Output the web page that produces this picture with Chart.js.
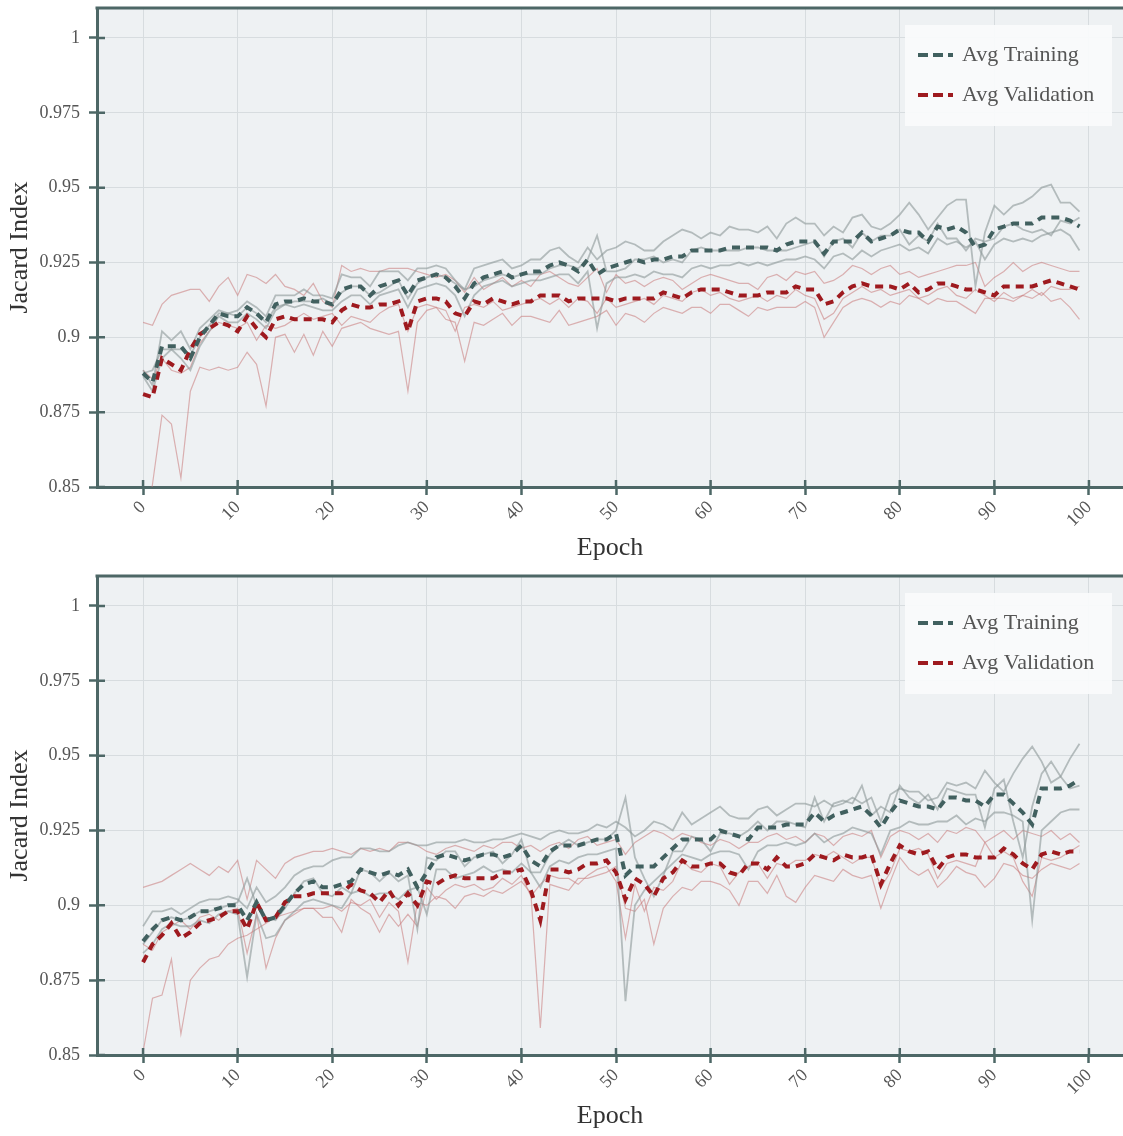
<!DOCTYPE html>
<html lang="en">

<head>
    <meta charset="UTF-8">
    <meta name="viewport" content="width=device-width, initial-scale=1.0">
    <script src="https://cdn.jsdelivr.net/npm/chart.js"></script>
    <title>Jacard Index per Epoch</title>
    <style>
        body { margin: 0; background: #ffffff; }
        .panel { width: 1123px; height: 568px; }
    </style>
</head>

<body>
    <div class="panel"><canvas id="chartTop" width="1123" height="568"></canvas></div>
    <div class="panel"><canvas id="chartBottom" width="1123" height="568"></canvas></div>

    <script>
        // epochs 0..99 on the x axis
        const epochs = Array.from({ length: 100 }, (_, i) => i);
        const xTicks = [0, 10, 20, 30, 40, 50, 60, 70, 80, 90, 100];
        const yTicks = [0.85, 0.875, 0.9, 0.925, 0.95, 0.975, 1];

        // ---- top panel ----
        const topAvgTraining = [
            .888, .885, .897, .897, .897, .893, .900, .904, .908, .907,
            .907, .910, .908, .905, .911, .912, .912, .913, .912, .912,
            .911, .916, .917, .917, .914, .917, .918, .919, .914, .919,
            .920, .921, .920, .917, .913, .918, .920, .921, .922, .920,
            .921, .922, .922, .924, .925, .924, .922, .926, .921, .923,
            .924, .925, .926, .925, .926, .926, .927, .927, .929, .929,
            .929, .929, .930, .930, .930, .930, .930, .929, .931, .932,
            .932, .932, .928, .932, .932, .932, .935, .932, .933, .934,
            .936, .935, .935, .932, .937, .936, .937, .935, .930, .931,
            .936, .937, .938, .938, .938, .940, .940, .940, .939, .937];
        const topAvgValidation = [
            .881, .880, .893, .891, .889, .896, .901, .903, .905, .904,
            .902, .907, .903, .900, .906, .907, .906, .906, .906, .906,
            .905, .909, .911, .910, .910, .911, .911, .912, .902, .912,
            .913, .913, .912, .908, .907, .912, .911, .913, .912, .911,
            .912, .912, .914, .914, .914, .912, .913, .913, .913, .913,
            .912, .913, .913, .913, .913, .915, .914, .913, .915, .916,
            .916, .916, .915, .914, .914, .914, .915, .915, .915, .917,
            .916, .916, .911, .912, .915, .917, .918, .917, .917, .917,
            .916, .918, .915, .916, .918, .918, .917, .916, .916, .915,
            .914, .917, .917, .917, .917, .918, .919, .918, .917, .916];
        const topTrainFold1 = [
            .889, .884, .902, .899, .902, .896, .903, .906, .909, .908,
            .909, .912, .910, .907, .914, .914, .914, .916, .914, .914,
            .913, .921, .920, .920, .917, .922, .922, .922, .919, .923,
            .923, .924, .923, .919, .916, .923, .924, .925, .926, .923,
            .924, .926, .926, .929, .930, .927, .925, .930, .926, .929,
            .930, .932, .931, .929, .929, .932, .934, .936, .935, .933,
            .935, .934, .937, .936, .936, .935, .937, .933, .938, .940,
            .938, .938, .934, .937, .935, .940, .941, .937, .936, .938,
            .941, .945, .941, .936, .940, .944, .946, .946, .917, .935,
            .944, .941, .944, .945, .947, .950, .951, .945, .945, .942];
        const topTrainFold2 = [
            .887, .882, .893, .896, .893, .889, .897, .902, .907, .905,
            .905, .908, .906, .903, .909, .911, .910, .911, .910, .909,
            .909, .912, .914, .914, .911, .914, .915, .916, .910, .916,
            .917, .918, .917, .914, .907, .914, .917, .918, .919, .917,
            .918, .919, .919, .920, .921, .921, .918, .922, .903, .918,
            .920, .920, .921, .920, .922, .921, .921, .920, .923, .924,
            .923, .924, .924, .925, .924, .925, .924, .925, .926, .926,
            .927, .926, .923, .927, .928, .926, .929, .927, .929, .930,
            .931, .929, .930, .928, .933, .931, .932, .930, .932, .926,
            .931, .933, .932, .933, .932, .934, .935, .936, .934, .929];
        const topTrainFold3 = [
            .888, .889, .896, .896, .896, .894, .900, .904, .908, .908,
            .907, .910, .908, .905, .910, .911, .912, .912, .912, .913,
            .911, .915, .917, .917, .914, .915, .917, .919, .913, .918,
            .920, .921, .920, .918, .916, .917, .919, .920, .921, .920,
            .921, .921, .921, .923, .924, .924, .923, .926, .934, .922,
            .922, .923, .926, .926, .927, .925, .926, .925, .929, .930,
            .929, .929, .929, .929, .930, .930, .929, .929, .929, .930,
            .931, .932, .927, .932, .933, .930, .935, .932, .934, .934,
            .936, .931, .934, .932, .938, .933, .933, .929, .933, .932,
            .933, .937, .938, .936, .935, .936, .934, .939, .938, .940];
        const topValFold1 = [
            .905, .904, .911, .914, .915, .916, .916, .912, .917, .920,
            .914, .921, .920, .918, .921, .917, .916, .914, .918, .912,
            .910, .924, .922, .923, .922, .922, .923, .923, .923, .922,
            .921, .920, .921, .919, .915, .920, .916, .918, .920, .917,
            .919, .917, .921, .922, .920, .918, .917, .920, .923, .915,
            .921, .918, .919, .917, .919, .920, .919, .916, .918, .920,
            .921, .920, .919, .918, .918, .916, .920, .921, .919, .922,
            .921, .922, .918, .919, .921, .924, .923, .921, .923, .924,
            .921, .922, .920, .921, .922, .923, .924, .924, .925, .917,
            .920, .922, .925, .922, .924, .925, .924, .923, .922, .922];
        const topValFold2 = [
            .830, .851, .874, .871, .853, .882, .890, .889, .890, .889,
            .890, .895, .891, .877, .900, .901, .895, .901, .894, .902,
            .897, .903, .904, .905, .903, .902, .901, .902, .882, .905,
            .909, .910, .906, .905, .892, .905, .904, .906, .908, .904,
            .907, .907, .906, .905, .909, .904, .905, .906, .907, .909,
            .904, .908, .907, .905, .908, .910, .909, .908, .910, .910,
            .908, .911, .911, .909, .907, .910, .909, .910, .910, .910,
            .912, .910, .900, .905, .910, .912, .913, .912, .910, .912,
            .911, .914, .913, .911, .913, .912, .912, .910, .908, .913,
            .913, .913, .912, .914, .913, .915, .912, .913, .910, .906];
        const topValFold3 = [
            .889, .886, .893, .889, .888, .890, .898, .902, .905, .904,
            .903, .905, .899, .904, .903, .904, .906, .908, .906, .907,
            .908, .904, .907, .906, .905, .908, .910, .911, .902, .910,
            .911, .910, .909, .902, .910, .911, .910, .912, .909, .910,
            .911, .912, .913, .911, .913, .910, .913, .912, .908, .913,
            .910, .911, .912, .913, .911, .914, .913, .912, .915, .916,
            .914, .915, .913, .912, .913, .914, .912, .914, .913, .916,
            .914, .913, .906, .908, .913, .915, .917, .915, .916, .914,
            .915, .916, .913, .914, .916, .917, .914, .913, .916, .914,
            .912, .915, .913, .914, .916, .914, .917, .916, .916, .917];

        // ---- bottom panel ----
        const bottomAvgTraining = [
            .888, .892, .895, .896, .895, .896, .898, .898, .899, .900,
            .900, .895, .901, .895, .896, .900, .904, .907, .908, .906,
            .906, .907, .908, .912, .911, .910, .911, .910, .912, .906,
            .911, .916, .917, .916, .915, .916, .917, .917, .916, .917,
            .920, .915, .913, .918, .920, .920, .920, .921, .922, .922,
            .924, .910, .913, .913, .913, .916, .919, .922, .922, .922,
            .922, .925, .924, .923, .922, .926, .926, .926, .927, .927,
            .927, .931, .928, .930, .931, .932, .933, .930, .926, .931,
            .935, .934, .933, .933, .932, .936, .936, .935, .935, .933,
            .937, .937, .934, .931, .927, .939, .939, .939, .940, .942];
        const bottomAvgValidation = [
            .881, .887, .890, .894, .889, .891, .894, .895, .896, .898,
            .898, .892, .901, .895, .896, .901, .903, .903, .904, .904,
            .904, .904, .907, .905, .904, .901, .905, .900, .904, .900,
            .908, .907, .909, .910, .909, .909, .909, .909, .911, .911,
            .912, .905, .895, .912, .912, .911, .912, .914, .914, .915,
            .911, .902, .909, .907, .903, .909, .911, .915, .913, .913,
            .914, .914, .911, .910, .914, .914, .912, .916, .913, .913,
            .914, .917, .916, .915, .917, .916, .916, .917, .907, .914,
            .920, .918, .917, .918, .912, .916, .917, .917, .916, .916,
            .916, .919, .917, .914, .912, .917, .918, .917, .918, .918];
        const bottomTrainFold1 = [
            .893, .898, .898, .899, .897, .899, .901, .902, .902, .903,
            .902, .899, .906, .901, .903, .906, .910, .912, .913, .913,
            .915, .916, .916, .919, .919, .918, .918, .920, .921, .920,
            .920, .921, .921, .921, .922, .921, .921, .922, .922, .923,
            .924, .923, .922, .924, .925, .924, .924, .925, .927, .926,
            .928, .926, .923, .925, .928, .927, .925, .931, .927, .929,
            .931, .933, .930, .929, .929, .932, .933, .930, .932, .934,
            .934, .933, .935, .933, .934, .936, .934, .936, .928, .937,
            .939, .938, .938, .935, .936, .941, .940, .941, .939, .945,
            .941, .938, .944, .949, .953, .948, .941, .943, .949, .954];
        const bottomTrainFold2 = [
            .884, .887, .892, .894, .893, .893, .895, .894, .897, .898,
            .897, .876, .897, .889, .890, .895, .898, .901, .902, .901,
            .900, .899, .904, .905, .903, .904, .904, .902, .905, .906,
            .897, .912, .912, .909, .910, .911, .913, .911, .912, .911,
            .914, .911, .906, .913, .915, .914, .916, .917, .917, .918,
            .919, .868, .900, .905, .908, .911, .914, .917, .916, .915,
            .917, .918, .918, .917, .912, .918, .920, .920, .921, .920,
            .921, .924, .921, .923, .924, .926, .925, .924, .917, .925,
            .926, .928, .927, .927, .928, .928, .930, .927, .929, .928,
            .931, .931, .930, .928, .895, .925, .928, .931, .932, .932];
        const bottomTrainFold3 = [
            .887, .891, .895, .896, .895, .896, .898, .898, .899, .900,
            .901, .909, .900, .896, .895, .899, .904, .908, .909, .904,
            .903, .906, .904, .912, .911, .908, .911, .908, .910, .892,
            .916, .915, .918, .918, .913, .916, .917, .918, .914, .917,
            .922, .911, .911, .917, .920, .922, .920, .921, .922, .922,
            .925, .936, .916, .909, .903, .910, .918, .918, .923, .922,
            .918, .924, .924, .923, .925, .928, .925, .928, .928, .927,
            .926, .936, .928, .934, .935, .934, .940, .930, .933, .931,
            .940, .936, .934, .937, .932, .939, .938, .937, .937, .926,
            .939, .942, .928, .916, .933, .944, .948, .943, .939, .940];
        const bottomValFold1 = [
            .906, .907, .908, .910, .912, .914, .912, .910, .913, .911,
            .915, .902, .915, .912, .909, .914, .916, .917, .918, .918,
            .919, .918, .917, .919, .918, .919, .918, .921, .921, .920,
            .918, .917, .919, .920, .919, .918, .920, .919, .921, .921,
            .919, .920, .918, .920, .921, .919, .922, .923, .920, .921,
            .922, .917, .921, .923, .925, .924, .922, .924, .923, .921,
            .920, .922, .921, .919, .921, .921, .923, .924, .922, .923,
            .921, .924, .923, .920, .923, .924, .923, .925, .916, .923,
            .925, .924, .922, .924, .921, .925, .924, .926, .925, .921,
            .923, .925, .922, .925, .924, .923, .925, .922, .924, .921];
        const bottomValFold2 = [
            .851, .869, .870, .882, .857, .875, .879, .882, .883, .887,
            .889, .890, .892, .894, .896, .897, .898, .899, .899, .899,
            .900, .898, .901, .900, .902, .896, .901, .898, .881, .901,
            .900, .903, .902, .899, .903, .904, .903, .905, .904, .906,
            .908, .904, .859, .907, .906, .905, .909, .909, .910, .911,
            .913, .899, .898, .902, .887, .899, .903, .906, .905, .908,
            .908, .907, .905, .900, .908, .908, .904, .910, .903, .901,
            .906, .910, .909, .908, .912, .910, .909, .910, .899, .908,
            .916, .912, .910, .912, .906, .909, .913, .911, .910, .906,
            .909, .914, .913, .910, .909, .912, .914, .913, .912, .914];
        const bottomValFold3 = [
            .887, .885, .891, .893, .895, .892, .896, .897, .895, .898,
            .899, .884, .897, .879, .889, .895, .897, .899, .899, .896,
            .896, .891, .902, .899, .897, .891, .897, .893, .897, .893,
            .906, .902, .905, .907, .906, .907, .905, .906, .909, .907,
            .910, .903, .907, .910, .909, .909, .907, .910, .912, .913,
            .908, .889, .907, .898, .906, .905, .908, .915, .912, .911,
            .914, .913, .907, .911, .913, .914, .909, .914, .913, .915,
            .915, .917, .916, .918, .916, .914, .916, .916, .906, .911,
            .919, .918, .919, .917, .909, .914, .915, .914, .913, .921,
            .916, .918, .916, .908, .903, .916, .915, .916, .918, .920];

        // colours
        const axisColor = '#4d6766';
        const gridColor = '#d7dcdf';
        const plotBg = '#eef1f3';
        const tickColor = '#555555';
        const titleColor = '#333333';
        const avgTrainColor = '#41605f';
        const avgValColor = '#9e1a1f';
        const foldTrainColor = 'rgba(140, 152, 152, 0.6)';
        const foldValColor = 'rgba(200, 120, 120, 0.55)';

        Chart.defaults.font.family = '"Liberation Serif", "DejaVu Serif", serif';

        function toPoints(values) {
            return values.map((v, i) => ({ x: epochs[i], y: v }));
        }

        // plot background, top frame line and the inner half of the tick marks
        const plotFrame = {
            id: 'plotFrame',
            beforeDraw(chart) {
                const { ctx, chartArea: a } = chart;
                ctx.save();
                ctx.fillStyle = plotBg;
                ctx.fillRect(a.left, a.top, a.right - a.left, a.bottom - a.top);
                ctx.restore();
            },
            afterDraw(chart) {
                const { ctx, chartArea: a, scales } = chart;
                ctx.save();
                ctx.strokeStyle = axisColor;
                ctx.lineWidth = 3;
                ctx.beginPath();
                ctx.moveTo(a.left - 1.5, a.top);
                ctx.lineTo(a.right, a.top);
                ctx.stroke();
                ctx.lineWidth = 2.5;
                ctx.beginPath();
                scales.x.ticks.forEach(t => {
                    const px = scales.x.getPixelForValue(t.value);
                    ctx.moveTo(px, a.bottom);
                    ctx.lineTo(px, a.bottom - 7);
                });
                scales.y.ticks.forEach(t => {
                    const py = scales.y.getPixelForValue(t.value);
                    ctx.moveTo(a.left, py);
                    ctx.lineTo(a.left + 8, py);
                });
                ctx.stroke();
                ctx.restore();
            }
        };

        // legend box in the top right corner of the plot
        const boxLegend = {
            id: 'boxLegend',
            afterDraw(chart) {
                const { ctx, chartArea: a } = chart;
                const items = chart.data.datasets.filter(d => d.inLegend);
                const w = 207, h = 101;
                const x = a.right - 11 - w;
                const y = a.top + 17;
                ctx.save();
                ctx.fillStyle = 'rgba(250, 251, 252, 0.92)';
                ctx.fillRect(x, y, w, h);
                items.forEach((d, i) => {
                    const cy = y + 30 + i * 40;
                    ctx.strokeStyle = d.borderColor;
                    ctx.lineWidth = 4;
                    ctx.setLineDash([10, 5]);
                    ctx.beginPath();
                    ctx.moveTo(x + 13, cy);
                    ctx.lineTo(x + 48, cy);
                    ctx.stroke();
                    ctx.setLineDash([]);
                    ctx.fillStyle = tickColor;
                    ctx.font = '22px "Liberation Serif", serif';
                    ctx.textBaseline = 'middle';
                    ctx.fillText(d.label, x + 57, cy);
                });
                ctx.restore();
            }
        };

        function foldLine(values, color, width) {
            return {
                data: toPoints(values),
                borderColor: color,
                borderWidth: width,
                pointRadius: 0,
                tension: 0
            };
        }

        function makeChart(canvasId, avgTrain, avgVal, trainFolds, valFolds) {
            const datasets = [
                {
                    label: 'Avg Training', inLegend: true,
                    data: toPoints(avgTrain), borderColor: avgTrainColor,
                    borderWidth: 4, borderDash: [8, 6], pointRadius: 0, tension: 0
                },
                {
                    label: 'Avg Validation', inLegend: true,
                    data: toPoints(avgVal), borderColor: avgValColor,
                    borderWidth: 4, borderDash: [8, 6], pointRadius: 0, tension: 0
                }
            ];
            trainFolds.forEach(f => datasets.push(foldLine(f, foldTrainColor, 1.8)));
            valFolds.forEach(f => datasets.push(foldLine(f, foldValColor, 1.2)));

            return new Chart(document.getElementById(canvasId), {
                type: 'line',
                data: { datasets: datasets },
                plugins: [plotFrame, boxLegend],
                options: {
                    responsive: false,
                    animation: false,
                    devicePixelRatio: 1,
                    layout: { padding: { top: 8, right: 0, left: 0, bottom: 0 } },
                    plugins: { legend: { display: false }, tooltip: { enabled: false } },
                    scales: {
                        x: {
                            type: 'linear',
                            min: -4.87,
                            max: 103.6,
                            afterBuildTicks: s => { s.ticks = xTicks.map(v => ({ value: v })); },
                            afterFit: s => { s.height = 81; s.paddingLeft = 0; s.paddingRight = 0; },
                            ticks: {
                                autoSkip: false, minRotation: 45, maxRotation: 45,
                                padding: 2, color: tickColor, font: { size: 18 },
                                callback: v => String(v)
                            },
                            grid: { color: gridColor, lineWidth: 1, tickLength: 8, tickColor: axisColor, tickWidth: 2.5 },
                            border: { color: axisColor, width: 3 },
                            title: {
                                display: true, text: 'Epoch', color: titleColor,
                                font: { size: 26 }, padding: { top: 0, bottom: 4 }
                            }
                        },
                        y: {
                            min: 0.85,
                            max: 1.01,
                            afterBuildTicks: s => { s.ticks = yTicks.map(v => ({ value: v })); },
                            afterFit: s => { s.width = 97; s.paddingTop = 0; s.paddingBottom = 0; },
                            ticks: {
                                padding: 9, color: tickColor, font: { size: 18 },
                                callback: v => String(+v.toFixed(3))
                            },
                            grid: { color: gridColor, lineWidth: 1, tickLength: 8, tickColor: axisColor, tickWidth: 2.5 },
                            border: { color: axisColor, width: 3 },
                            title: {
                                display: true, text: 'Jacard Index', color: titleColor,
                                font: { size: 26 }, padding: { top: 5, bottom: 0 }
                            }
                        }
                    }
                }
            });
        }

        makeChart('chartTop', topAvgTraining, topAvgValidation,
            [topTrainFold1, topTrainFold2, topTrainFold3],
            [topValFold1, topValFold2, topValFold3]);
        makeChart('chartBottom', bottomAvgTraining, bottomAvgValidation,
            [bottomTrainFold1, bottomTrainFold2, bottomTrainFold3],
            [bottomValFold1, bottomValFold2, bottomValFold3]);
    </script>
</body>

</html>
